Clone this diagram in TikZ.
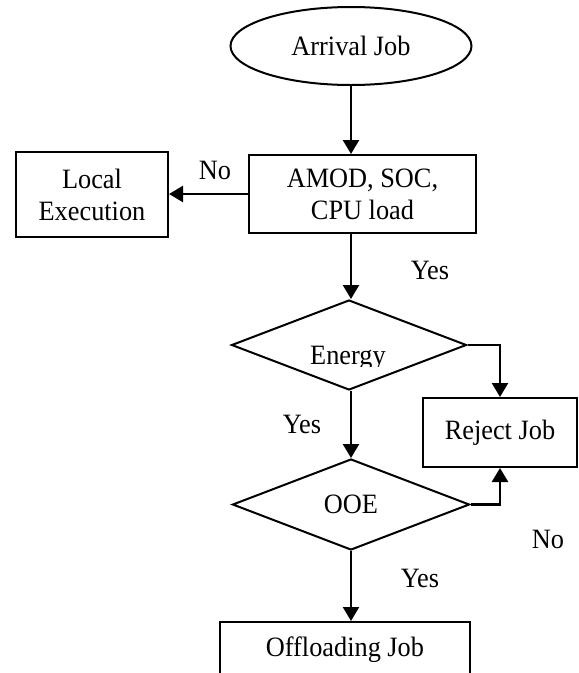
\documentclass[tikz,border=0pt]{standalone}
\usepackage{fontspec}
\setmainfont[FakeStretch=0.94]{Liberation Serif}
\usetikzlibrary{shapes.geometric,arrows.meta}
\begin{document}
\begin{tikzpicture}[x=1pt,y=-1pt,
  line width=2pt,
  every node/.style={font=\fontsize{28}{32}\selectfont, inner sep=0pt, line width=2pt},
  box/.style={draw, rectangle, align=center},
  decision/.style={draw, diamond},
  flow/.style={line width=2.3pt, -{Triangle[length=14pt,width=16pt]}},
  lbl/.style={font=\fontsize{28}{32}\selectfont}
]
\clip (0,0) rectangle (579,673);

% nodes
\node[draw, ellipse, minimum width=241pt, minimum height=78pt] (arr) at (351,46) {Arrival Job};
\node[box, minimum width=227pt, minimum height=78pt] (amod) at (362.5,194) {AMOD, SOC,\\CPU load};
\node[box, minimum width=152pt, minimum height=85pt] (local) at (92,194.5) {Local\\Execution};
\node[decision, minimum width=235pt, minimum height=90pt] (energy) at (349,345) {};
\node[box, minimum width=154pt, minimum height=69pt] (reject) at (500,432.5) {Reject Job};
\node[decision, minimum width=237pt, minimum height=91pt] (ooe) at (351,504.5) {OOE};
\node[box, minimum width=250pt, minimum height=56pt] (off) at (345,650) {Offloading Job};

% decision text, cut off just below its baseline
\begin{scope}
  \clip (230,300) rectangle (470,366);
  \node[anchor=base] (energytext) at (348,364) {Energy};
\end{scope}

% branch labels
\node[lbl] (no1) at (215,170) {No};
\node[lbl] (yes1) at (430,270) {Yes};
\node[lbl] (yes2) at (302,424) {Yes};
\node[lbl] (no2) at (548,539) {No};
\node[lbl] (yes3) at (420,578) {Yes};

% connectors
\draw[flow] (arr.south) -- (arr.south |- amod.north);
\draw[flow] (amod.west) -- (amod.west -| local.east);
\draw[flow] (arr.south |- amod.south) -- (arr.south |- energy.north);
\draw[flow] (energy.east) -| (reject.north);
\draw[flow] (arr.south |- energy.south) -- (arr.south |- ooe.north);
\draw[flow] (ooe.east) -| (reject.south);
\draw[flow] (arr.south |- ooe.south) -- (arr.south |- off.north);
\end{tikzpicture}
\end{document}
